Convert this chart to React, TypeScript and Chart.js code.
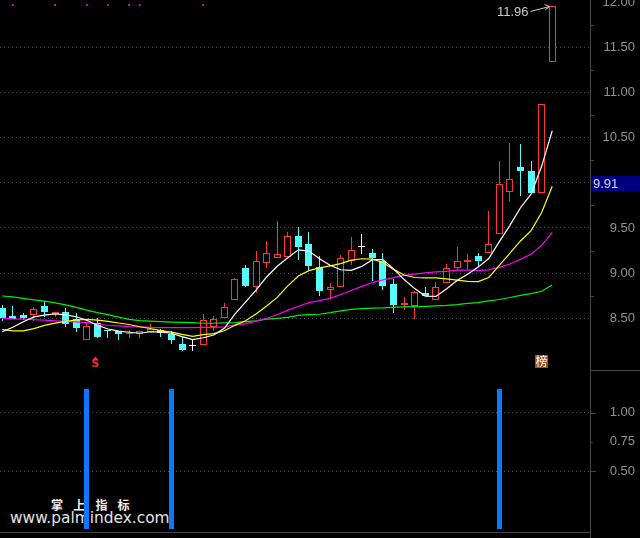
import React, { useEffect, useRef } from "react";
import { Chart, registerables } from "chart.js";

Chart.register(...registerables);

// ---- data ----
const opens = [8.61, 8.526, 8.537, 8.54, 8.637, 8.548, 8.57, 8.492, 8.259, 8.451, 8.37, 8.36, 8.322, 8.326, 8.348, 8.367, 8.322, 8.214, 8.192, 8.207, 8.403, 8.503, 8.7, 9.059, 8.848, 9.107, 9.162, 9.181, 9.414, 9.326, 9.07, 8.818, 8.851, 9.137, 9.292, 9.226, 9.137, 8.881, 8.648, 8.637, 8.781, 8.703, 8.892, 9.059, 9.126, 9.192, 9.226, 9.437, 9.903, 10.181, 10.126, 9.892, 11.34];
const highs = [8.65, 8.637, 8.559, 8.626, 8.692, 8.57, 8.614, 8.559, 8.459, 8.503, 8.37, 8.36, 8.367, 8.359, 8.441, 8.381, 8.359, 8.292, 8.256, 8.548, 8.526, 8.67, 8.948, 9.092, 9.248, 9.359, 9.581, 9.459, 9.514, 9.451, 9.192, 8.892, 9.203, 9.403, 9.437, 9.27, 9.226, 8.937, 8.737, 8.8, 8.848, 8.903, 9.103, 9.292, 9.214, 9.226, 9.692, 10.237, 10.437, 10.426, 10.237, 10.87, 11.96];
const lows = [8.47, 8.49, 8.48, 8.47, 8.515, 8.515, 8.407, 8.351, 8.259, 8.281, 8.28, 8.256, 8.278, 8.278, 8.348, 8.296, 8.214, 8.137, 8.137, 8.207, 8.359, 8.503, 8.7, 8.848, 8.781, 9.059, 9.162, 9.181, 9.148, 9.026, 8.748, 8.714, 8.851, 9.092, 9.214, 8.914, 8.814, 8.559, 8.592, 8.492, 8.748, 8.7, 8.892, 9.026, 9.037, 9.07, 9.226, 9.437, 9.803, 9.859, 9.892, 9.892, 11.34];
const closes = [8.5, 8.496, 8.503, 8.603, 8.57, 8.57, 8.44, 8.396, 8.414, 8.292, 8.36, 8.32, 8.333, 8.359, 8.378, 8.337, 8.259, 8.148, 8.192, 8.481, 8.492, 8.626, 8.937, 8.859, 9.137, 9.226, 9.214, 9.414, 9.292, 9.073, 8.803, 8.848, 9.17, 9.259, 9.292, 9.17, 8.859, 8.648, 8.67, 8.792, 8.748, 8.848, 9.059, 9.137, 9.148, 9.137, 9.326, 9.992, 10.037, 10.126, 9.892, 10.87, 11.96];

const ma5 = [8.35, 8.4, 8.46, 8.515, 8.534, 8.548, 8.537, 8.516, 8.478, 8.422, 8.38, 8.356, 8.344, 8.333, 8.35, 8.345, 8.333, 8.296, 8.263, 8.283, 8.314, 8.388, 8.546, 8.679, 8.81, 8.957, 9.075, 9.17, 9.257, 9.244, 9.159, 9.086, 9.037, 9.031, 9.074, 9.148, 9.15, 9.046, 8.928, 8.828, 8.743, 8.741, 8.823, 8.917, 8.988, 9.066, 9.161, 9.348, 9.528, 9.724, 9.875, 10.183, 10.577];
const ma10 = [8.375, 8.36, 8.36, 8.385, 8.42, 8.445, 8.465, 8.48, 8.487, 8.478, 8.464, 8.447, 8.43, 8.405, 8.386, 8.363, 8.345, 8.32, 8.298, 8.317, 8.33, 8.361, 8.421, 8.471, 8.547, 8.636, 8.731, 8.858, 8.968, 9.027, 9.058, 9.08, 9.104, 9.144, 9.159, 9.154, 9.118, 9.041, 8.979, 8.951, 8.946, 8.946, 8.935, 8.922, 8.908, 8.905, 8.951, 9.086, 9.222, 9.356, 9.47, 9.672, 9.963];
const ma20 = [8.5, 8.492, 8.489, 8.483, 8.478, 8.47, 8.464, 8.459, 8.451, 8.433, 8.422, 8.414, 8.407, 8.403, 8.398, 8.396, 8.396, 8.396, 8.396, 8.398, 8.397, 8.404, 8.425, 8.438, 8.467, 8.499, 8.538, 8.589, 8.633, 8.672, 8.694, 8.72, 8.762, 8.807, 8.853, 8.895, 8.925, 8.95, 8.974, 8.989, 9.002, 9.013, 9.019, 9.033, 9.034, 9.029, 9.035, 9.064, 9.101, 9.153, 9.208, 9.309, 9.449];
const ma60 = [8.746, 8.737, 8.72, 8.703, 8.689, 8.67, 8.648, 8.62, 8.589, 8.562, 8.539, 8.511, 8.487, 8.473, 8.467, 8.461, 8.457, 8.453, 8.451, 8.444, 8.444, 8.448, 8.451, 8.461, 8.47, 8.489, 8.498, 8.509, 8.531, 8.539, 8.544, 8.561, 8.581, 8.598, 8.606, 8.611, 8.614, 8.62, 8.626, 8.629, 8.632, 8.637, 8.642, 8.651, 8.664, 8.673, 8.692, 8.707, 8.729, 8.753, 8.772, 8.798, 8.867];

const priceTicks = [8.5, 9.0, 9.5, 10.0, 10.5, 11.0, 11.5, 12.0];
const minorPriceTicks = [8.75, 9.25, 9.75, 10.25, 10.75, 11.25, 11.75];

const signalIdx = [8, 16, 47];
const signalValues = [1.2, 1.2, 1.2];
const signalTicks = [0.5, 0.75, 1.0];

const topDotIdx = [1, 5, 8, 10, 12, 13, 19];
const topDotLevel = 11.97;
const sMarkIdx = 9;
const bangIdx = 51;
const bangText = "榜";
const cursorPrice = 9.91;

// ---- styles ----
const RED = "#ff3434";
const CYAN = "#54fcfc";
const WHITE = "#ffffff";
const YELLOW = "#ffff00";
const MAGENTA = "#ff00ff";
const GREEN = "#00f000";
const GRID = "#505050";
const AXIS = "#464646";
const LABEL = "#909090";
const LABEL_FONT = '"Liberation Sans", Arial, sans-serif';
const LABEL_SIZE = 13;

const X_MIN = -0.208;
const X_MAX = 55.572;

const idx = closes.map((_, i) => i);
const kind = (i: number) => (closes[i] > opens[i] ? "up" : closes[i] < opens[i] ? "down" : "flat");
const strokeOf = (i: number) => (kind(i) === "up" ? RED : kind(i) === "down" ? CYAN : WHITE);
const fillOf = (i: number) => (kind(i) === "up" ? "#000000" : kind(i) === "down" ? CYAN : WHITE);

const lineDs = (arr: number[], color: string) => ({
  type: "line" as const,
  data: idx.map((i) => ({ x: i, y: arr[i] })),
  borderColor: color,
  borderWidth: 1.2,
  pointRadius: 0,
  tension: 0,
  fill: false,
  order: 0,
});

// snap bar elements (positioned by the scales) to whole device pixels
const crispBars = {
  id: "crispBars",
  beforeDatasetsDraw(chart: any) {
    chart.data.datasets.forEach((_: any, di: number) => {
      const meta = chart.getDatasetMeta(di);
      if (meta.type !== "bar") return;
      meta.data.forEach((el: any) => {
        el.x = Math.round(el.x - 0.5) + 0.5;
        const y = Math.round(el.y);
        let b = Math.round(el.base);
        if (y === b) b = y + 1;
        el.y = y;
        el.base = b;
      });
    });
  },
};

const mainDecor = {
  id: "mainDecor",
  afterDraw(chart: any) {
    const { ctx, chartArea, scales } = chart;
    const x = scales.x;
    const y = scales.y;
    ctx.save();
    ctx.strokeStyle = AXIS;
    ctx.lineWidth = 1;
    minorPriceTicks.forEach((v) => {
      const py = Math.round(y.getPixelForValue(v)) + 0.5;
      ctx.beginPath();
      ctx.moveTo(chartArea.right, py);
      ctx.lineTo(chartArea.right + 4, py);
      ctx.stroke();
    });
    ctx.beginPath();
    ctx.moveTo(0, chartArea.bottom + 0.5);
    ctx.lineTo(chart.width, chartArea.bottom + 0.5);
    ctx.stroke();

    // highest price label with arrow
    const last = closes.length - 1;
    const hx = Math.round(x.getPixelForValue(last) - 0.5) + 0.5;
    const hy = Math.round(y.getPixelForValue(highs[last]));
    ctx.fillStyle = "#c8c8c8";
    ctx.strokeStyle = "#c8c8c8";
    ctx.font = LABEL_SIZE + "px " + LABEL_FONT;
    ctx.textAlign = "right";
    ctx.textBaseline = "middle";
    ctx.fillText(highs[last].toFixed(2), hx - 24, hy + 6);
    ctx.beginPath();
    ctx.moveTo(hx - 22, hy + 5.5);
    ctx.lineTo(hx - 3, hy + 0.5);
    ctx.stroke();
    ctx.beginPath();
    ctx.moveTo(hx - 8, hy - 1.5);
    ctx.lineTo(hx - 3, hy + 0.5);
    ctx.lineTo(hx - 7, hy + 3.5);
    ctx.stroke();

    // S marker
    const sx = Math.round(x.getPixelForValue(sMarkIdx)) - 1.5;
    ctx.fillStyle = "#ff2a2a";
    ctx.beginPath();
    ctx.moveTo(sx - 3, 360);
    ctx.lineTo(sx + 3, 360);
    ctx.lineTo(sx, 356.5);
    ctx.closePath();
    ctx.fill();
    ctx.font = "bold 11px 'DejaVu Sans', sans-serif";
    ctx.textAlign = "center";
    ctx.textBaseline = "middle";
    ctx.fillText("S", sx, 364.5);

    // 榜 marker
    const bx = x.getPixelForValue(bangIdx);
    ctx.fillStyle = "#a0521c";
    ctx.fillRect(Math.round(bx - 6.5), 355, 13, 13);
    ctx.fillStyle = "#ffffff";
    ctx.font = "12px 'Noto Sans CJK SC', sans-serif";
    ctx.fillText(bangText, Math.round(bx - 6.5) + 6.5, 361.5);

    // cursor price box
    const py = Math.round(y.getPixelForValue(cursorPrice));
    ctx.fillStyle = "#000080";
    ctx.fillRect(chartArea.right + 1, py - 15, chart.width - chartArea.right - 1, 15);
    ctx.fillStyle = "#d8d8f0";
    ctx.font = LABEL_SIZE + "px " + LABEL_FONT;
    ctx.textAlign = "left";
    ctx.textBaseline = "middle";
    ctx.fillText(cursorPrice.toFixed(2), chartArea.right + 3, py - 7);
    ctx.restore();
  },
};

const subDecor = {
  id: "subDecor",
  afterDraw(chart: any) {
    const { ctx, chartArea, scales } = chart;
    const y = scales.y;
    ctx.save();
    ctx.strokeStyle = AXIS;
    ctx.lineWidth = 1;
    signalTicks.forEach((v) => {
      const py = Math.round(y.getPixelForValue(v)) + 0.5;
      const len = v === 0.75 ? 3 : 6;
      ctx.beginPath();
      ctx.moveTo(chartArea.right, py);
      ctx.lineTo(chartArea.right + len, py);
      ctx.stroke();
    });
    ctx.beginPath();
    ctx.moveTo(0, chartArea.bottom + 0.5);
    ctx.lineTo(chartArea.right, chartArea.bottom + 0.5);
    ctx.moveTo(chartArea.right, 0.5);
    ctx.lineTo(chart.width, 0.5);
    ctx.moveTo(chartArea.right + 0.5, 0);
    ctx.lineTo(chartArea.right + 0.5, chart.height);
    ctx.stroke();
    ctx.restore();
  },
};

// the axis box spans 590..635 (labels right-aligned at 635); layout padding keeps 5px on the right
function yAxis(min: number, max: number, ticks: number[], hidden: (v: number) => boolean) {
  return {
    type: "linear" as const,
    position: "right" as const,
    min,
    max,
    afterBuildTicks: (s: any) => {
      s.ticks = ticks.map((v) => ({ value: v }));
    },
    afterFit: (s: any) => {
      s.width = 45;
      s.paddingTop = 0;
      s.paddingBottom = 0;
    },
    grid: {
      color: (c: any) => (c.tick && hidden(c.tick.value) ? "rgba(0,0,0,0)" : GRID),
      drawTicks: false,
      lineWidth: 1,
    },
    border: { display: true, color: AXIS, width: 1, dash: [1, 3] },
    ticks: {
      color: LABEL,
      font: { family: LABEL_FONT, size: LABEL_SIZE },
      padding: 4,
      crossAlign: "far" as const,
      autoSkip: false,
      callback: (v: any) => Number(v).toFixed(2),
    },
  };
}

export default function App() {
  const mainRef = useRef<HTMLCanvasElement>(null);
  const subRef = useRef<HTMLCanvasElement>(null);

  useEffect(() => {
    const main = new Chart(mainRef.current as HTMLCanvasElement, {
      type: "bar",
      data: {
        datasets: [
          lineDs(ma5, WHITE),
          lineDs(ma10, YELLOW),
          lineDs(ma20, MAGENTA),
          lineDs(ma60, GREEN),
          {
            type: "line",
            data: topDotIdx.map((i) => ({ x: i, y: topDotLevel })),
            showLine: false,
            pointStyle: "rect",
            pointRadius: 1.3,
            pointBorderWidth: 0,
            pointBackgroundColor: MAGENTA,
            order: 0,
          } as any,
          {
            type: "bar",
            data: idx.map((i) => ({ x: i, y: [opens[i], closes[i]] })),
            backgroundColor: idx.map(fillOf),
            borderColor: idx.map(strokeOf),
            borderWidth: 1,
            borderSkipped: false,
            barThickness: 7,
            minBarLength: 1,
            grouped: false,
            inflateAmount: 0,
            order: 1,
          } as any,
          {
            type: "bar",
            data: idx.map((i) => ({ x: i, y: [lows[i], highs[i]] })),
            backgroundColor: idx.map(strokeOf),
            borderWidth: 0,
            barThickness: 1,
            grouped: false,
            inflateAmount: 0,
            order: 2,
          } as any,
        ],
      },
      options: {
        responsive: false,
        animation: false,
        layout: { padding: { top: 0, bottom: 0, left: 0, right: 5 }, autoPadding: false } as any,
        plugins: { legend: { display: false }, tooltip: { enabled: false } },
        scales: {
          x: { type: "linear", min: X_MIN, max: X_MAX, display: false, offset: false },
          y: yAxis(7.926, 12.026, priceTicks, (v) => v >= 12) as any,
        },
      },
      plugins: [crispBars, mainDecor],
    });

    const sub = new Chart(subRef.current as HTMLCanvasElement, {
      type: "bar",
      data: {
        datasets: [
          {
            data: signalIdx.map((x, k) => ({ x, y: signalValues[k] })),
            backgroundColor: "#0a78ff",
            borderWidth: 0,
            barThickness: 5,
            grouped: false,
            inflateAmount: 0,
          } as any,
        ],
      },
      options: {
        responsive: false,
        animation: false,
        layout: { padding: { top: 1, bottom: 6, left: 0, right: 5 }, autoPadding: false } as any,
        plugins: { legend: { display: false }, tooltip: { enabled: false } },
        scales: {
          x: { type: "linear", min: X_MIN, max: X_MAX, display: false, offset: false },
          y: yAxis(-0.023, 1.358, signalTicks, (v) => v === 0.75) as any,
        },
      },
      plugins: [crispBars, subDecor],
    });

    return () => {
      main.destroy();
      sub.destroy();
    };
  }, []);

  return (
    <div style={{ position: "fixed", left: 0, top: 0, width: 640, height: 538, background: "#000", overflow: "hidden" }}>
      <div
        style={{
          position: "absolute",
          left: 51,
          top: 499,
          fontFamily: "'Noto Sans CJK SC', sans-serif",
          fontWeight: "bold",
          fontSize: 12,
          lineHeight: "12px",
          letterSpacing: "10.2px",
          color: "#f0f0f0",
          whiteSpace: "nowrap",
        }}
      >
        掌上指标
      </div>
      <div
        style={{
          position: "absolute",
          left: 10,
          top: 511,
          fontFamily: "'DejaVu Sans', sans-serif",
          fontSize: 15.4,
          lineHeight: "15px",
          color: "#e4e4e4",
          whiteSpace: "nowrap",
        }}
      >
        www.palmindex.com
      </div>
      <canvas ref={mainRef} width={640} height={370} style={{ position: "absolute", left: 0, top: 0 }} />
      <canvas ref={subRef} width={640} height={168} style={{ position: "absolute", left: 0, top: 370 }} />
    </div>
  );
}
